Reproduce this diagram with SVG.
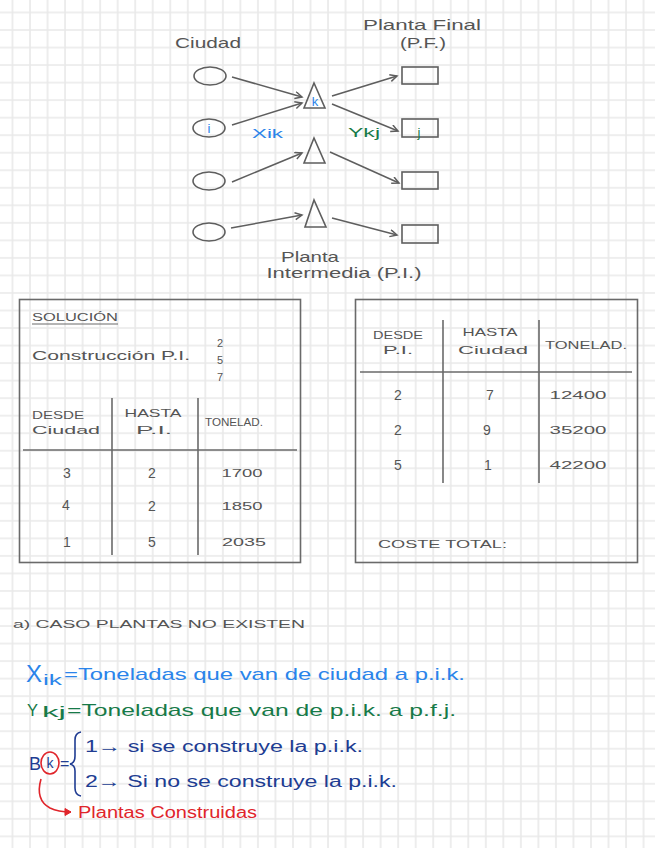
<svg xmlns="http://www.w3.org/2000/svg" width="655" height="848" viewBox="0 0 655 848">
<style>
text{font-family:"Liberation Sans","DejaVu Sans",sans-serif;}
.g{fill:#555;}
.sm{font-size:11px;}
.dg{font-size:14px;}
.md{font-size:13px;}
.lg{font-size:15px;}
.blue{fill:#2a84ea;}
.green{fill:#177a48;}
.navy{fill:#203c92;}
.red{fill:#e0252b;}
.shape{fill:none;stroke:#5e5e5e;stroke-width:1.6;}
.conn{fill:none;stroke:#5e5e5e;stroke-width:1.5;marker-end:url(#ah);}
.rule{fill:none;stroke:#6a6a6a;stroke-width:1.6;}
</style>
<defs>
<pattern id="grid" patternUnits="userSpaceOnUse" x="11.5" y="11.5" width="17.53" height="17.53">
<path d="M1,0 V17.53 M0,1 H17.53" stroke="#e9e9e9" stroke-width="1.6" fill="none"/>
</pattern>
<marker id="ah" markerWidth="10" markerHeight="10" refX="8" refY="4" orient="auto" markerUnits="userSpaceOnUse">
<path d="M1,0.5 L8,4 L1,7.5" fill="none" stroke="#5e5e5e" stroke-width="1.5"/>
</marker>
<marker id="ahr" markerWidth="10" markerHeight="10" refX="7" refY="4" orient="auto" markerUnits="userSpaceOnUse">
<path d="M1,0.5 L7,4 L1,7.5 Z" fill="#e0252b" stroke="#e0252b" stroke-width="1"/>
</marker>
</defs>
<rect width="655" height="848" fill="#ffffff"/>
<rect width="655" height="848" fill="url(#grid)"/>

<!-- Top diagram -->
<g id="labels-top">
<text class="g lg" x="208" y="48" text-anchor="middle" textLength="66" lengthAdjust="spacingAndGlyphs">Ciudad</text>
<text class="g lg" x="422" y="30" text-anchor="middle" textLength="118" lengthAdjust="spacingAndGlyphs">Planta Final</text>
<text class="g lg" x="423" y="48" text-anchor="middle" textLength="46" lengthAdjust="spacingAndGlyphs">(P.F.)</text>
<text class="g lg" x="310" y="262" text-anchor="middle" textLength="58" lengthAdjust="spacingAndGlyphs">Planta</text>
<text class="g lg" x="344" y="278" text-anchor="middle" textLength="155" lengthAdjust="spacingAndGlyphs">Intermedia (P.I.)</text>
</g>

<g id="city1"><ellipse class="shape" cx="210" cy="76" rx="16" ry="9"/></g>
<g id="city2"><ellipse class="shape" cx="209" cy="128" rx="16" ry="9"/><text class="blue md" x="209" y="133" text-anchor="middle">i</text></g>
<g id="city3"><ellipse class="shape" cx="209" cy="181" rx="16" ry="9"/></g>
<g id="city4"><ellipse class="shape" cx="209" cy="232" rx="16" ry="9"/></g>

<g id="pi1"><polygon class="shape" points="314,83 304,108 325,108"/><text class="blue md" x="315" y="106" text-anchor="middle">k</text></g>
<g id="pi2"><polygon class="shape" points="314,138 304,163 325,163"/></g>
<g id="pi3"><polygon class="shape" points="314,200 305,227 326,227"/></g>

<g id="pf1"><rect class="shape" x="402" y="67" width="36" height="17"/></g>
<g id="pf2"><rect class="shape" x="402" y="119" width="36" height="18"/><text class="green md" x="419" y="137" text-anchor="middle">j</text></g>
<g id="pf3"><rect class="shape" x="402" y="172" width="36" height="17"/></g>
<g id="pf4"><rect class="shape" x="402" y="225" width="36" height="18"/></g>

<g id="connectors">
<line class="conn" x1="232" y1="77" x2="302" y2="97"/>
<line class="conn" x1="232" y1="125" x2="302" y2="103"/>
<line class="conn" x1="232" y1="182" x2="302" y2="153"/>
<line class="conn" x1="231" y1="228" x2="302" y2="215"/>
<line class="conn" x1="332" y1="96" x2="397" y2="76"/>
<line class="conn" x1="332" y1="104" x2="398" y2="131"/>
<line class="conn" x1="330" y1="152" x2="399" y2="183"/>
<line class="conn" x1="332" y1="218" x2="397" y2="235"/>
<text class="blue md" x="252" y="138" textLength="31" lengthAdjust="spacingAndGlyphs">Xik</text>
<text class="green md" x="348" y="137" textLength="32" lengthAdjust="spacingAndGlyphs">Ykj</text>
</g>

<!-- Left box -->
<g id="solucion">
<rect class="rule" x="19.5" y="299.5" width="281" height="263"/>
<text class="g sm" x="32" y="321" textLength="86" lengthAdjust="spacingAndGlyphs">SOLUCIÓN</text>
<line x1="32" y1="324" x2="118" y2="324" stroke="#6a6a6a" stroke-width="1.2"/>
<text class="g md" x="32" y="360" textLength="158" lengthAdjust="spacingAndGlyphs">Construcción P.I.</text>
<text class="g sm" x="220" y="347" text-anchor="middle">2</text>
<text class="g sm" x="220" y="364" text-anchor="middle">5</text>
<text class="g sm" x="220" y="381" text-anchor="middle">7</text>
<line class="rule" x1="112" y1="398" x2="112" y2="555"/>
<line class="rule" x1="198" y1="398" x2="198" y2="555"/>
<line class="rule" x1="23" y1="450" x2="297" y2="450"/>
<text class="g sm" x="32" y="419" textLength="52" lengthAdjust="spacingAndGlyphs">DESDE</text>
<text class="g sm" x="32" y="434" textLength="68" lengthAdjust="spacingAndGlyphs">Ciudad</text>
<text class="g sm" x="153" y="417" text-anchor="middle" textLength="57" lengthAdjust="spacingAndGlyphs">HASTA</text>
<text class="g sm" x="154" y="434" text-anchor="middle" textLength="36" lengthAdjust="spacingAndGlyphs">P.I.</text>
<text class="g sm" x="234" y="426" text-anchor="middle" textLength="58" lengthAdjust="spacingAndGlyphs">TONELAD.</text>
<text class="g dg" x="67" y="478" text-anchor="middle">3</text>
<text class="g dg" x="152" y="478" text-anchor="middle">2</text>
<text class="g sm" x="242" y="477" text-anchor="middle" textLength="41" lengthAdjust="spacingAndGlyphs">1700</text>
<text class="g dg" x="66" y="510" text-anchor="middle">4</text>
<text class="g dg" x="152" y="511" text-anchor="middle">2</text>
<text class="g sm" x="242" y="510" text-anchor="middle" textLength="41" lengthAdjust="spacingAndGlyphs">1850</text>
<text class="g dg" x="67" y="547" text-anchor="middle">1</text>
<text class="g dg" x="152" y="547" text-anchor="middle">5</text>
<text class="g sm" x="244" y="546" text-anchor="middle" textLength="44" lengthAdjust="spacingAndGlyphs">2035</text>
</g>

<!-- Right box -->
<g id="tabla-pf">
<rect class="rule" x="355.5" y="299.5" width="282" height="263"/>
<line class="rule" x1="443" y1="320" x2="443" y2="483"/>
<line class="rule" x1="539" y1="320" x2="539" y2="483"/>
<line class="rule" x1="360" y1="372" x2="632" y2="372"/>
<text class="g sm" x="398" y="339" text-anchor="middle" textLength="50" lengthAdjust="spacingAndGlyphs">DESDE</text>
<text class="g sm" x="398" y="354" text-anchor="middle" textLength="30" lengthAdjust="spacingAndGlyphs">P.I.</text>
<text class="g sm" x="490" y="336" text-anchor="middle" textLength="55" lengthAdjust="spacingAndGlyphs">HASTA</text>
<text class="g sm" x="493" y="354" text-anchor="middle" textLength="70" lengthAdjust="spacingAndGlyphs">Ciudad</text>
<text class="g sm" x="586" y="349" text-anchor="middle" textLength="82" lengthAdjust="spacingAndGlyphs">TONELAD.</text>
<text class="g dg" x="398" y="400" text-anchor="middle">2</text>
<text class="g dg" x="490" y="400" text-anchor="middle">7</text>
<text class="g sm" x="578" y="399" text-anchor="middle" textLength="57" lengthAdjust="spacingAndGlyphs">12400</text>
<text class="g dg" x="398" y="435" text-anchor="middle">2</text>
<text class="g dg" x="487" y="435" text-anchor="middle">9</text>
<text class="g sm" x="578" y="434" text-anchor="middle" textLength="57" lengthAdjust="spacingAndGlyphs">35200</text>
<text class="g dg" x="398" y="470" text-anchor="middle">5</text>
<text class="g dg" x="488" y="470" text-anchor="middle">1</text>
<text class="g sm" x="578" y="469" text-anchor="middle" textLength="57" lengthAdjust="spacingAndGlyphs">42200</text>
<text class="g sm" x="378" y="548" textLength="129" lengthAdjust="spacingAndGlyphs">COSTE TOTAL:</text>
</g>

<!-- Bottom notes -->
<g id="caso">
<text class="g sm" x="13" y="628" textLength="292" lengthAdjust="spacingAndGlyphs">a) CASO PLANTAS NO EXISTEN</text>
</g>
<g id="def-x">
<text class="blue" x="26" y="682" font-size="24" textLength="16" lengthAdjust="spacingAndGlyphs">X</text>
<text class="blue" x="43" y="685" font-size="15" textLength="19" lengthAdjust="spacingAndGlyphs">ik</text>
<text class="blue" x="64" y="680" font-size="17" textLength="401" lengthAdjust="spacingAndGlyphs">=Toneladas que van de ciudad a p.i.k.</text>
</g>
<g id="def-y">
<text class="green" x="27" y="716" font-size="17" textLength="11" lengthAdjust="spacingAndGlyphs">Y</text>
<text class="green" x="42" y="717" font-size="15" textLength="24" lengthAdjust="spacingAndGlyphs">kj</text>
<text class="green" x="67" y="716" font-size="17" textLength="389" lengthAdjust="spacingAndGlyphs">=Toneladas que van de p.i.k. a p.f.j.</text>
</g>
<g id="def-b">
<text class="navy" x="29" y="770" font-size="18">B</text>
<text class="navy" x="50" y="768" font-size="14" text-anchor="middle">k</text>
<ellipse cx="50" cy="763" rx="9" ry="11" fill="none" stroke="#e0252b" stroke-width="1.6"/>
<text class="navy" x="60" y="769" font-size="16">=</text>
<path d="M81,732 Q75,733 75,740 L75,756 Q75,763 70,764 Q75,765 75,771 L75,788 Q75,795 81,796" fill="none" stroke="#203c92" stroke-width="1.6"/>
<text class="navy" x="85" y="752" font-size="16" textLength="278" lengthAdjust="spacingAndGlyphs">1→ si se construye la p.i.k.</text>
<text class="navy" x="85" y="787" font-size="16" textLength="312" lengthAdjust="spacingAndGlyphs">2→ Si no se construye la p.i.k.</text>
</g>
<g id="plantas-construidas">
<path d="M41,779 Q35,800 50,808 Q58,812 71,812" fill="none" stroke="#e0252b" stroke-width="1.6" marker-end="url(#ahr)"/>
<text class="red" x="78" y="818" font-size="16" textLength="179" lengthAdjust="spacingAndGlyphs">Plantas Construidas</text>
</g>
</svg>
